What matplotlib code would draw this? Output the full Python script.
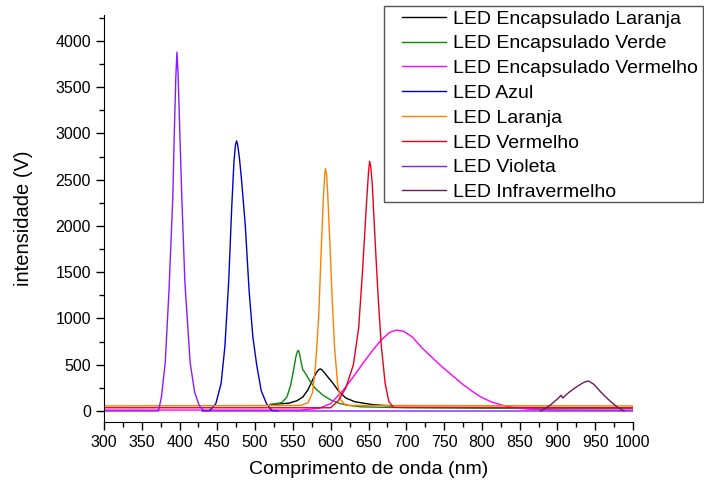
import numpy as np
import matplotlib.pyplot as plt
from matplotlib.patches import Rectangle
from matplotlib.ticker import MultipleLocator

plt.rcParams['font.family'] = ['Liberation Sans', 'DejaVu Sans']

# (comprimento de onda nm, intensidade)
enc_laranja_x = [520, 545, 555, 563, 570, 576, 581, 584, 586, 588, 591, 597, 603, 610, 620, 632, 643, 655, 670, 680]
enc_laranja_y = [70, 85, 110, 150, 230, 335, 415, 445, 455, 448, 420, 360, 300, 220, 140, 100, 85, 70, 60, 55]

enc_verde_x = [520, 535, 542, 547, 551, 554, 556, 557.5, 559, 561, 563, 567, 572, 580, 590, 600, 612, 625, 640, 700, 800, 900, 1000]
enc_verde_y = [70, 90, 150, 280, 450, 590, 645, 655, 610, 520, 450, 400, 330, 240, 170, 120, 80, 60, 45, 35, 30, 30, 30]

enc_vermelho_x = [300, 560, 585, 600, 617, 630, 643, 655, 667, 678, 687, 697, 708, 721, 734, 747, 760,
                  773, 786, 798, 812, 826, 840, 860, 900, 1000]
enc_vermelho_y = [10, 10, 30, 80, 230, 370, 520, 650, 770, 850, 875, 860, 800, 680, 580, 480, 390,
                  300, 220, 155, 100, 65, 40, 20, 12, 10]

azul_x = [430, 440, 448, 455, 460, 465, 469, 472, 474, 475.5, 477, 479, 482, 487, 492, 497, 502, 508, 515, 522, 530]
azul_y = [0, 5, 80, 300, 700, 1400, 2200, 2700, 2880, 2920, 2870, 2750, 2500, 2000, 1300, 800, 500, 220, 80, 5, 0]

laranja_x = [300, 560, 570, 576, 580, 584, 587, 590, 592, 593, 594.5, 596, 599, 602, 605, 609, 613, 620, 1000]
laranja_y = [55, 60, 90, 200, 500, 1000, 1650, 2250, 2550, 2620, 2560, 2350, 1800, 1200, 700, 300, 120, 60, 55]

vermelho_x = [300, 600, 610, 620, 630, 637, 642, 647, 650, 651.5, 653, 655, 659, 663, 667, 672, 677, 683, 1000]
vermelho_y = [35, 35, 110, 250, 500, 900, 1500, 2200, 2580, 2700, 2640, 2450, 1800, 1200, 700, 300, 100, 40, 35]

violeta_x = [300, 372, 376, 381, 386, 391, 393, 395, 396.5, 398, 400, 403, 407, 414, 420, 426, 432, 1000]
violeta_y = [0, 0, 150, 520, 1300, 2300, 3000, 3600, 3880, 3650, 3100, 2300, 1400, 520, 200, 60, 0, 0]

infra_x = [878, 890, 900, 905, 907, 915, 925, 935, 941, 948, 958, 968, 978, 988]
infra_y = [0, 60, 130, 170, 140, 200, 260, 310, 325, 290, 200, 120, 50, 0]

series = [
    ("LED Encapsulado Laranja", enc_laranja_x, enc_laranja_y, "black"),
    ("LED Encapsulado Verde", enc_verde_x, enc_verde_y, "#0a8a0a"),
    ("LED Encapsulado Vermelho", enc_vermelho_x, enc_vermelho_y, "#ff00ff"),
    ("LED Azul", azul_x, azul_y, "#0000cc"),
    ("LED Laranja", laranja_x, laranja_y, "#ff8000"),
    ("LED Vermelho", vermelho_x, vermelho_y, "#e8001c"),
    ("LED Violeta", violeta_x, violeta_y, "#8a1aff"),
    ("LED Infravermelho", infra_x, infra_y, "#6a1b5e"),
]

fig = plt.figure(figsize=(7.04, 4.87), dpi=100)
ax = fig.add_axes([104 / 704, 1 - 422 / 487, (633 - 104) / 704, (422 - 15) / 487])

for label, xs, ys, c in series:
    ax.plot(xs, ys, color=c, lw=1.0, label=label)

ax.set_xlim(300, 1000)
ax.set_ylim(-119, 4281)
ax.xaxis.set_major_locator(MultipleLocator(50))
ax.xaxis.set_minor_locator(MultipleLocator(25))
ax.yaxis.set_minor_locator(MultipleLocator(250))
ax.set_yticks(np.arange(0, 4001, 500))
ax.tick_params(which='major', direction='out', length=6, width=1, labelsize=11.5, colors='black')
ax.tick_params(which='minor', direction='out', length=3.5, width=1)
ax.spines['top'].set_visible(False)
ax.spines['right'].set_visible(False)

ax.set_xlabel("Comprimento de onda (nm)", fontsize=14, labelpad=8)
ax.set_ylabel("intensidade (V)", fontsize=14.5, labelpad=16)

# legenda sem moldura + caixa desenhada a parte
leg = fig.legend(loc='upper left', bbox_to_anchor=(402 / 704, 1 - 10 / 487), fontsize=14,
                 frameon=False, handlelength=2.25, handletextpad=0.35,
                 labelspacing=0.37, borderpad=0, borderaxespad=0)
fig.patches.append(Rectangle((384 / 704, 1 - 202 / 487), (703 - 384) / 704, (202 - 6) / 487,
                             transform=fig.transFigure, fill=False, edgecolor='#555555', lw=1.0))

fig.savefig("out.png", dpi=100)
